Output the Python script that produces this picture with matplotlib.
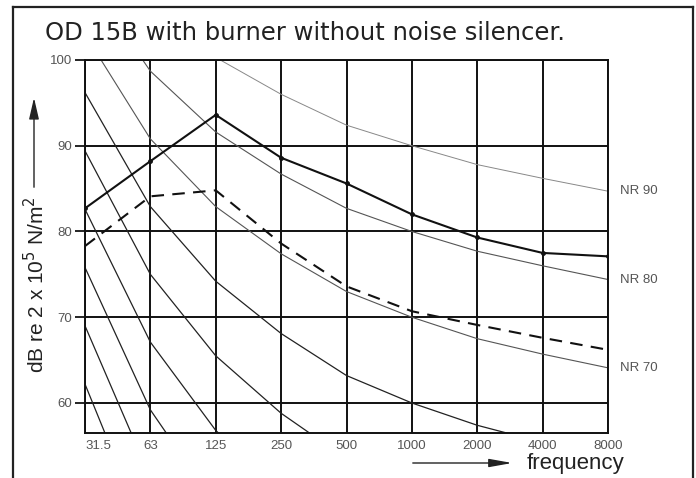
import matplotlib
matplotlib.use("Agg")
import matplotlib.pyplot as plt
from matplotlib.lines import Line2D
from matplotlib.patches import FancyArrowPatch

plt.rcParams['font.family'] = ['Liberation Sans', 'DejaVu Sans']

freq_labels = ['31.5', '63', '125', '250', '500', '1000', '2000', '4000', '8000']
y_ticks = [60, 70, 80, 90, 100]

# Noise rating curves (dB at each octave band)
nr_10 = [62.2, 43.5, 30.7, 21.3, 14.5, 10.0, 6.6, 4.2, 2.3]
nr_20 = [69.0, 51.3, 39.4, 30.7, 24.3, 20.0, 16.8, 14.4, 12.6]
nr_30 = [75.8, 59.2, 48.1, 40.0, 34.0, 30.0, 26.9, 24.7, 22.9]
nr_40 = [82.6, 67.1, 56.8, 49.6, 43.8, 40.0, 37.1, 34.9, 33.2]
nr_50 = [89.4, 75.0, 65.5, 58.8, 53.5, 50.0, 47.2, 45.2, 43.5]
nr_60 = [96.2, 82.9, 74.2, 68.1, 63.2, 60.0, 57.4, 55.4, 53.8]
nr_70 = [103.0, 90.8, 82.9, 77.4, 73.0, 70.0, 67.5, 65.7, 64.1]
nr_80 = [109.8, 98.7, 91.6, 86.7, 82.7, 80.0, 77.7, 76.0, 74.4]
nr_90 = [116.6, 106.6, 100.3, 96.0, 92.4, 90.0, 87.8, 86.2, 84.7]
nr_labels = ['NR 90', 'NR 80', 'NR 70']

solid_series = [82.7, 88.2, 93.6, 88.6, 85.6, 82.0, 79.3, 77.5, 77.1]
dashed_series = [78.3, 84.1, 84.8, 78.6, 73.6, 70.7, 69.1, 67.6, 66.2]

W, H = 696, 478
fig = plt.figure(figsize=(W / 100, H / 100), dpi=100)
ax = fig.add_axes([85 / W, 1 - 433 / H, (608 - 85) / W, (433 - 60) / H])

x = list(range(len(freq_labels)))

nr_curves = [nr_10, nr_20, nr_30, nr_40, nr_50, nr_60, nr_70, nr_80, nr_90]
nr_colors = ['#222222'] * 6 + ['#555555', '#555555', '#888888']
nr_widths = [0.9] * 6 + [0.8, 0.8, 0.7]
for c, col, lw in zip(nr_curves, nr_colors, nr_widths):
    ax.plot(x, c, color=col, lw=lw, zorder=2)

ax.plot(x, solid_series, color='#111111', lw=1.5, marker='o', ms=2.5, zorder=4)
ax.plot(x, dashed_series, color='#111111', lw=1.5, ls=(0, (6, 4)), zorder=4)

ax.set_xlim(0, len(freq_labels) - 1)
ax.set_ylim(56.5, 100)
ax.set_xticks(x)
ax.set_xticklabels(freq_labels)
ax.set_yticks(y_ticks)
ax.grid(True, color='#111111', lw=1.4, zorder=1)
for s in ax.spines.values():
    s.set_color('#111111')
    s.set_linewidth(1.4)
ax.tick_params(axis='x', length=0, pad=5, labelsize=9.5, labelcolor='#555555')
ax.tick_params(axis='y', length=7, width=1.2, pad=2, labelsize=9.5, labelcolor='#555555')
lbl0 = ax.get_xticklabels()[0]
lbl0.set_horizontalalignment('left')

# NR labels at the right end
for lab, c in zip(nr_labels, [nr_90, nr_80, nr_70]):
    ax.annotate(lab, xy=(x[-1], c[-1]), xytext=(9, 0), textcoords='offset points',
                va='center', ha='left', fontsize=9.5, color='#555555', annotation_clip=False)

# Title
fig.text(45 / W, 1 - 33 / H, 'OD 15B with burner without noise silencer.',
         fontsize=17.5, va='center', ha='left', color='#222222', family='DejaVu Sans')

# Y label with arrow
fig.text(36 / W, 1 - 285 / H, r'dB re 2 x 10$^5$ N/m$^2$', rotation=90,
         fontsize=15, va='center', ha='center', color='#222222')
fig.add_artist(FancyArrowPatch(
    (34 / W, 1 - 190 / H), (34 / W, 1 - 95 / H), transform=fig.transFigure,
    arrowstyle='-|>,head_length=13,head_width=3', color='#222222', lw=1.0))

# X label with arrow
fig.text(527 / W, 1 - 463 / H, 'frequency', fontsize=16, va='center', ha='left',
         color='#222222')
fig.add_artist(FancyArrowPatch(
    (410 / W, 1 - 463 / H), (515 / W, 1 - 463 / H), transform=fig.transFigure,
    arrowstyle='-|>,head_length=14,head_width=2.5', color='#222222', lw=1.0))

# Outer frame
fig.add_artist(Line2D([13 / W, 13 / W], [0, 1 - 7 / H], transform=fig.transFigure,
                      color='#222222', lw=1.6))
fig.add_artist(Line2D([13 / W, 693 / W], [1 - 7 / H, 1 - 7 / H], transform=fig.transFigure,
                      color='#222222', lw=1.6))
fig.add_artist(Line2D([693 / W, 693 / W], [0, 1 - 7 / H], transform=fig.transFigure,
                      color='#222222', lw=1.6))

fig.savefig('out.png', dpi=100)
